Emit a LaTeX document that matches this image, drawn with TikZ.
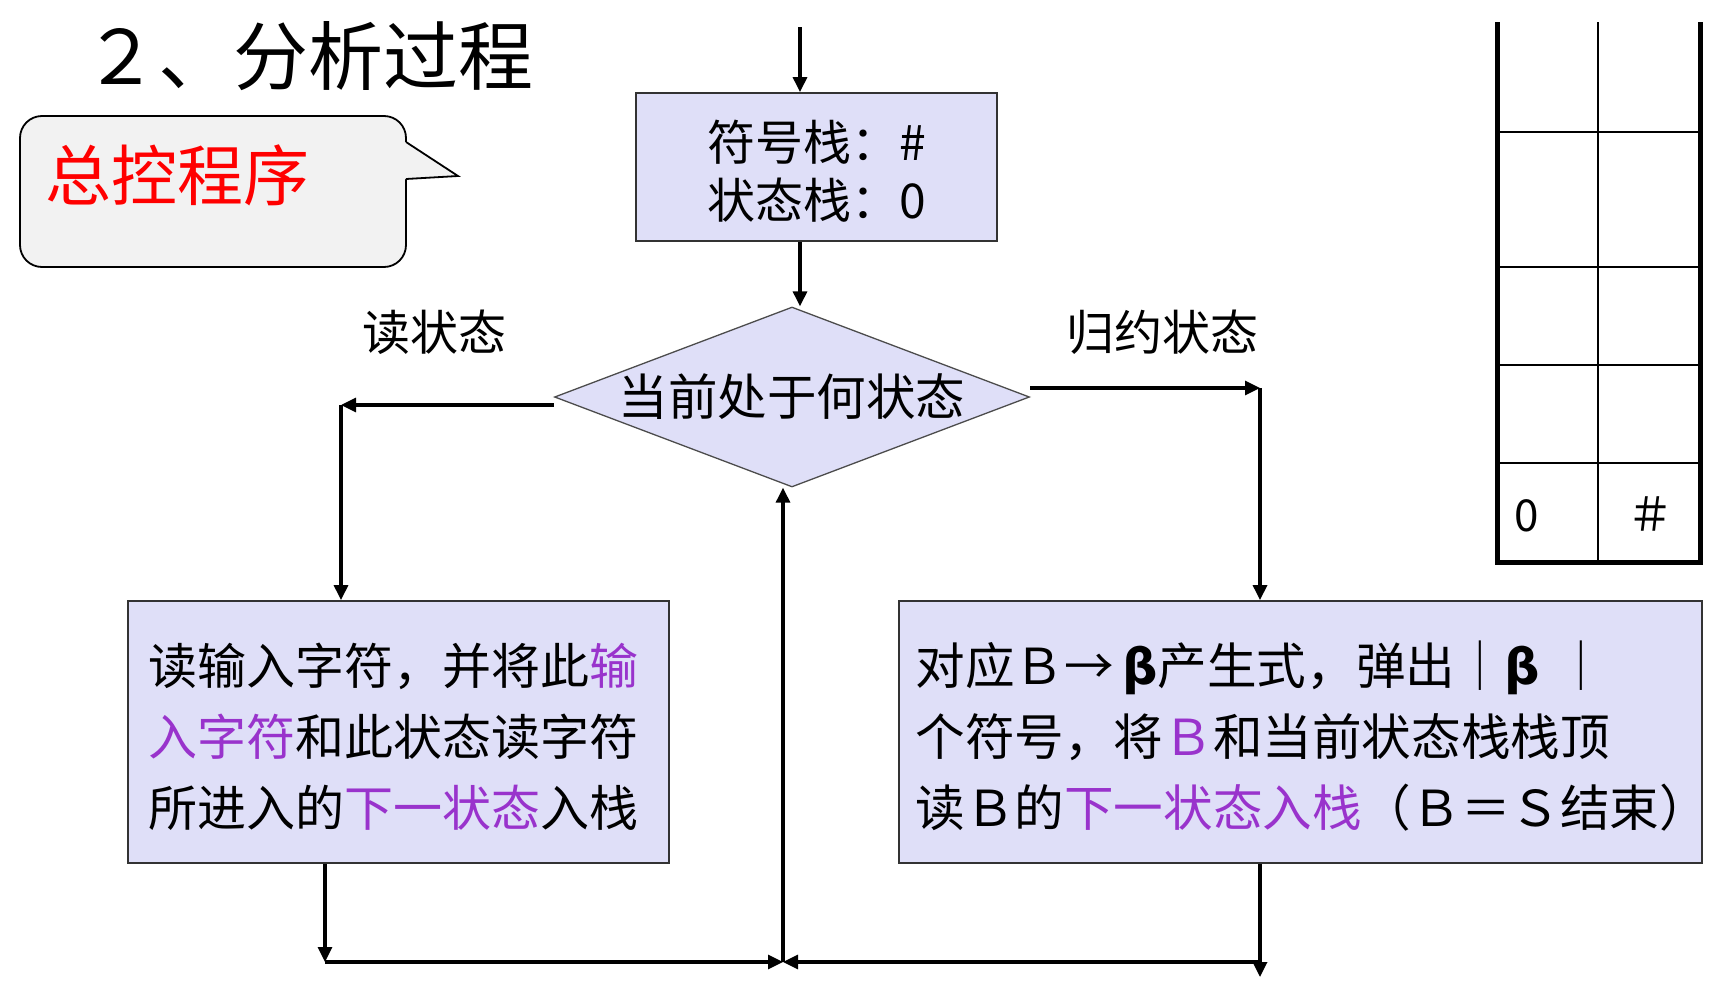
\documentclass[tikz,border=0pt]{standalone}
\usepackage{fontspec}
\setmainfont{Noto Sans CJK SC}
\newfontfamily\dejavu{DejaVu Sans}
\usetikzlibrary{arrows.meta,shapes.geometric}
\definecolor{boxfill}{RGB}{223,223,248}
\definecolor{pur}{RGB}{153,51,204}
\definecolor{callfill}{RGB}{242,242,242}
\newcommand{\bbeta}{{\dejavu\bfseries β}}
\begin{document}
\begin{tikzpicture}[x=1pt,y=-1pt,
  arr/.style={line width=3.2pt,-{Triangle[length=15pt,width=14pt]}},
  procbox/.style={draw=black!80,line width=1.8pt,fill=boxfill,inner ysep=0pt,align=left},
  lbl/.style={font=\fontsize{48}{55}\selectfont,inner sep=0pt},
  gridthin/.style={line width=2.5pt},
  gridthick/.style={line width=5pt,line join=miter},
  ]
\useasboundingbox (0,0) rectangle (1722,988);

% title
\node[anchor=west,inner sep=0pt,font=\fontsize{75}{80}\selectfont] (title) at (83,56) {２、分析过程};

% callout
\draw[line width=1.8pt,fill=callfill,rounded corners=22pt] (20,116) rectangle (406,267);
\fill[callfill] (401,142) -- (406,142) -- (458,176) -- (406,179) -- (401,179) -- cycle;
\draw[line width=1.8pt,line join=miter] (406,142) -- (458,176) -- (406,179);
\node[anchor=west,inner sep=0pt,text=red,font=\fontsize{66}{70}\selectfont] (ctrl) at (45,175) {总控程序};

% initial box
\node[procbox,inner xsep=0pt,minimum width=361pt,minimum height=148pt,font=\fontsize{48}{58}\selectfont] (init) at (816.5,167) {\rule{0pt}{49pt}符号栈：\#\\状态栈：0};
\coordinate (entry) at (800,27);
\draw[arr] (entry) -- (entry |- init.north);

% decision
\node[diamond,draw=black!70,line width=1.3pt,fill=boxfill,minimum width=475pt,minimum height=180pt,inner sep=0pt] (dia) at (792,397) {};
\node[lbl,font=\fontsize{49.5}{55}\selectfont] (diatext) at (792,397) {当前处于何状态};
\draw[arr] (entry |- init.south) -- (entry |- dia.north);

% process boxes
\node[procbox,font=\fontsize{49}{71}\selectfont,text width=500pt,inner xsep=20.5pt,minimum height=262pt] (readbox) at (398.5,732)
  {\rule{0pt}{51.5pt}读输入字符，并将此\textcolor{pur}{输}\\\textcolor{pur}{入字符}和此状态读字符\\所进入的\textcolor{pur}{下一状态}入栈};
\node[procbox,font=\fontsize{49.6}{71}\selectfont,text width=770pt,inner xsep=16.5pt,minimum height=262pt] (redbox) at (1300.5,732)
  {\rule{0pt}{51.5pt}对应Ｂ→\,\bbeta 产生式，弹出｜\bbeta\ ｜\\个符号，将\textcolor{pur}{Ｂ}和当前状态栈栈顶\\读Ｂ的\textcolor{pur}{下一状态入栈}（Ｂ＝Ｓ结束）};

% labels
\node[lbl] (lread) at (434,332) {读状态};
\node[lbl] (lred) at (1162,332) {归约状态};

% branches
\coordinate (lc) at (341,405);
\coordinate (rc) at (1260,388);
\draw[arr] ([yshift=-8pt]dia.west) -- (lc);
\draw[arr] (lc) -- (lc |- readbox.north);
\draw[arr] ([yshift=9pt]dia.east) -- (rc);
\draw[arr] (rc) -- (rc |- redbox.north);

% return loop
\coordinate (mid) at (783,962);
\coordinate (lb) at (325,962);
\coordinate (rb) at (1260,977);
\draw[arr] (lb |- readbox.south) -- (lb);
\draw[arr] (lb) -- (mid);
\draw[arr] (rb |- redbox.south) -- (rb);
\draw[arr] (rb |- mid) -- (mid);
\draw[arr] (mid) -- (mid |- dia.south);

% stack table
\draw[gridthin] (1598,22) -- (1598,562);
\foreach \yy in {132,267,365,463} \draw[gridthin] (1497,\yy) -- (1700,\yy);
\draw[gridthick] (1497,22) -- (1497,562) -- (1700,562) -- (1700,22);
\node[font=\fontsize{44}{50}\selectfont,inner sep=0pt] (s0) at (1527,516) {0};
\node[font=\fontsize{46}{50}\selectfont,inner sep=0pt] (s1) at (1650,514) {＃};
\end{tikzpicture}
\end{document}
